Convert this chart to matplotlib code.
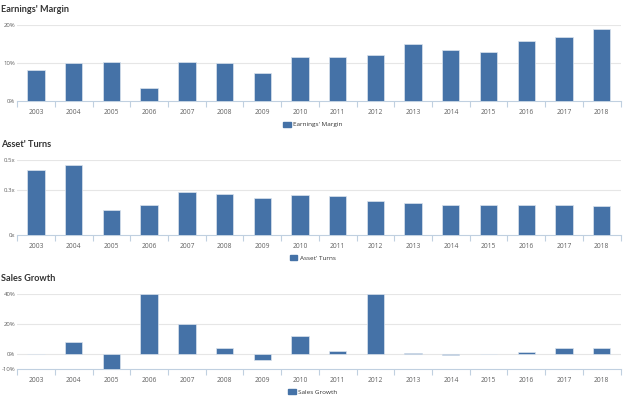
import matplotlib
matplotlib.use("Agg")
import matplotlib.pyplot as plt
from matplotlib.patches import Patch

years = ["2003", "2004", "2005", "2006", "2007", "2008", "2009", "2010",
         "2011", "2012", "2013", "2014", "2015", "2016", "2017", "2018"]
earnings_margin = [8.2, 9.9, 10.2, 3.3, 10.2, 9.9, 7.3, 11.6,
                   11.5, 12.2, 15.0, 13.5, 13.0, 15.7, 16.9, 19.0]
asset_turns = [0.43, 0.467, 0.164, 0.198, 0.284, 0.271, 0.244, 0.264,
               0.258, 0.224, 0.211, 0.202, 0.202, 0.198, 0.198, 0.193]
sales_growth = [0.0, 7.9, -9.7, 40.0, 20.0, 3.7, -4.0, 12.1,
                2.0, 40.0, 0.7, -0.9, 0.0, 1.5, 3.7, 4.2]

panels = [
    dict(title="Earnings' Margin", data=earnings_margin, ylim=(0, 20),
         ticks=[0, 10, 20], labels=["0%", "10%", "20%"], legend="Earnings' Margin"),
    dict(title="Asset' Turns", data=asset_turns, ylim=(0, 0.5),
         ticks=[0, 0.3, 0.5], labels=["0x", "0.3x", "0.5x"], legend="Asset' Turns"),
    dict(title="Sales Growth", data=sales_growth, ylim=(-10, 40),
         ticks=[-10, 0, 20, 40], labels=["-10%", "0%", "20%", "40%"], legend="Sales Growth"),
]

BAR = "#4572A7"
GRID = "#e6e6e6"
AXIS = "#c0d0e0"
LABEL = "#606060"
FONT = ["Open Sans", "DejaVu Sans"]
TFONT = ["Lato", "DejaVu Sans"]

fig = plt.figure(figsize=(6.24, 3.97), dpi=100)
W, H = 624, 397
left_px, right_px = 17.2, 620.5
axes_px = [(25, 101), (160, 235), (294, 369)]
title_px = [5, 140, 274]

x = list(range(len(years)))
for p, (top, bot), ty in zip(panels, axes_px, title_px):
    ax = fig.add_axes([left_px / W, 1 - bot / H, (right_px - left_px) / W, (bot - top) / H])
    ax.bar(x, p["data"], width=0.46, color=BAR, edgecolor="#dbe4ee", linewidth=0.5, zorder=3)
    ax.set_xlim(-0.5, len(years) - 0.5)
    ax.set_ylim(*p["ylim"])
    ax.set_yticks(p["ticks"])
    ax.set_yticklabels(p["labels"], fontsize=4.3, color=LABEL, family=FONT)
    ax.tick_params(axis="y", length=0, pad=1.5)
    ax.set_xticks(x)
    ax.set_xticklabels(years, fontsize=4.8, color=LABEL, family=FONT)
    ax.tick_params(axis="x", length=0, pad=6)
    ax.set_xticks([i - 0.5 for i in range(len(years) + 1)], minor=True)
    ax.tick_params(axis="x", which="minor", length=4, color=AXIS, width=0.8)
    for t in p["ticks"]:
        if t != p["ylim"][0]:
            ax.axhline(t, color=GRID, linewidth=0.8, zorder=1)
    for s in ["top", "right", "left"]:
        ax.spines[s].set_visible(False)
    ax.spines["bottom"].set_color(AXIS)
    ax.spines["bottom"].set_linewidth(0.8)
    fig.text(1 / W, 1 - ty / H, p["title"], fontsize=6.6, fontweight="bold",
             color="#333333", family=TFONT, va="top", ha="left")
    ax.legend(handles=[Patch(facecolor=BAR, edgecolor=BAR)], labels=[p["legend"]],
              loc="center", bbox_to_anchor=(0.49, -0.31), frameon=False,
              prop={"family": FONT, "size": 4.6}, handlelength=1.2, handleheight=0.8,
              handletextpad=0.4, labelcolor="#333333")

fig.savefig("out.png", dpi=100, facecolor="white")
